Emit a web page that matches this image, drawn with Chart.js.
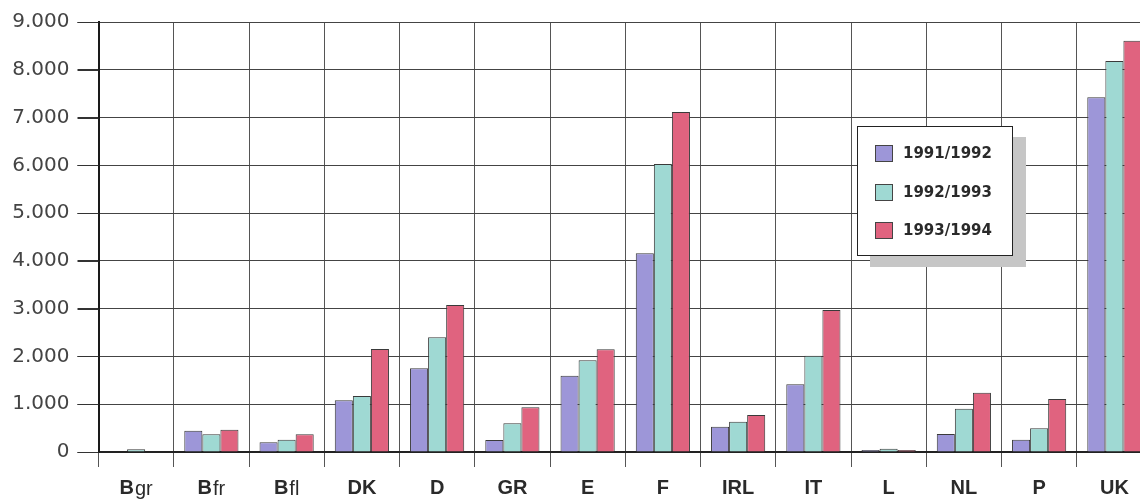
<!DOCTYPE html>
<html>
<head>
<meta charset="utf-8">
<script src="https://cdn.jsdelivr.net/npm/chart.js@4/dist/chart.umd.min.js"></script>
<style>
  html, body { margin: 0; padding: 0; background: #fff; overflow: hidden; width: 1140px; height: 501px; }
  #wrap { position: relative; width: 1140px; height: 501px; overflow: hidden; }
  #bars { position: absolute; left: 0; top: 0; }
  #legend {
    position: absolute; left: 857px; top: 126px; width: 154px; height: 128px;
    background: #fff; border: 1px solid #222; box-shadow: 13px 11px 0 #c6c6c6;
    font-family: "DejaVu Sans", sans-serif; font-weight: bold; font-size: 15px; color: #2a2a2a;
  }
  #legend .row { position: absolute; left: 17px; height: 18px; line-height: 18px; white-space: nowrap; }
  #legend .sw { display: inline-block; width: 16px; height: 15px; border: 1px solid #444; vertical-align: middle; margin-right: 10px; }
</style>
</head>
<body>
<div id="wrap">
  <canvas id="bars" width="1152" height="501"></canvas>
  <div id="legend"></div>
</div>
<script>
const countries = ["Bgr", "Bfr", "Bfl", "DK", "D", "GR", "E", "F", "IRL", "IT", "L", "NL", "P", "UK"];
const seriesNames = ["1991/1992", "1992/1993", "1993/1994"];
const y1991 = [0, 445, 203, 1082, 1752, 251, 1597, 4158, 530, 1416, 42, 377, 258, 7423];
const y1992 = [60, 370, 258, 1172, 2400, 600, 1919, 6028, 635, 2016, 70, 907, 495, 8183];
const y1993 = [0, 467, 370, 2156, 3077, 935, 2149, 7116, 775, 2972, 42, 1242, 1109, 8608];
const colors = ["#9d96d8", "#9fd9d3", "#e0637f"];

const yTicks = [0, 1000, 2000, 3000, 4000, 5000, 6000, 7000, 8000, 9000];

function fmt(v) {
  return String(v).replace(/\B(?=(\d{3})+(?!\d))/g, ".");
}

// x labels: "B" bold, the rest of "Bgr" etc. in regular weight
const xLabelPlugin = {
  id: "xLabels",
  afterDraw(chart) {
    const ctx = chart.ctx;
    const xs = chart.scales.x;
    ctx.save();
    ctx.fillStyle = "#2a2a2a";
    ctx.textBaseline = "middle";
    const bold = "bold 20px 'Liberation Sans', Arial, sans-serif";
    const thin = "20px 'Liberation Sans', Arial, sans-serif";
    countries.forEach((c, i) => {
      const x = xs.getPixelForValue(i);
      let head = c, tail = "";
      if (c.length > 1 && c[1] === c[1].toLowerCase()) { head = c[0]; tail = c.slice(1); }
      ctx.font = bold;
      const w1 = ctx.measureText(head).width;
      ctx.font = thin;
      const w2 = tail ? ctx.measureText(tail).width + 1 : 0;
      let left = x - (w1 + w2) / 2;
      ctx.textAlign = "left";
      ctx.font = bold;
      ctx.fillText(head, left, 488);
      if (tail) {
        ctx.font = thin;
        ctx.fillText(tail, left + w1 + 1, 489);
      }
    });
    ctx.restore();
  }
};

// short tick marks left of the y axis, one per y tick
const yTickMarks = {
  id: "yTickMarks",
  afterDraw(chart) {
    const ctx = chart.ctx;
    const ys = chart.scales.y;
    const left = chart.chartArea.left;
    ctx.save();
    ctx.strokeStyle = "#333";
    ctx.lineWidth = 1;
    yTicks.forEach(v => {
      const y = Math.round(ys.getPixelForValue(v)) + 0.5;
      ctx.beginPath();
      ctx.moveTo(left - 21, y);
      ctx.lineTo(left, y);
      ctx.stroke();
    });
    ctx.restore();
  }
};

const datasets = [y1991, y1992, y1993].map((d, i) => ({
  label: seriesNames[i],
  data: d,
  backgroundColor: colors[i],
  borderColor: "#3a3a3a",
  borderWidth: 1,
  barPercentage: 1,
  categoryPercentage: 0.72
}));

new Chart(document.getElementById("bars"), {
  type: "bar",
  data: { labels: countries, datasets: datasets },
  plugins: [xLabelPlugin, yTickMarks],
  options: {
    responsive: false,
    animation: false,
    layout: { padding: { top: 22, right: 0, left: 0, bottom: 0 } },
    plugins: { legend: { display: false }, tooltip: { enabled: false } },
    scales: {
      x: {
        offset: true,
        afterFit(scale) { scale.height = 49; },
        grid: {
          offset: true,
          color: "#555",
          lineWidth: 1,
          drawTicks: true,
          tickLength: 15
        },
        border: { display: true, color: "#222", width: 2 },
        ticks: { display: false }
      },
      y: {
        min: 0,
        max: 9000,
        afterFit(scale) { scale.width = 98.5; },
        afterBuildTicks(scale) { scale.ticks = yTicks.map(v => ({ value: v })); },
        grid: {
          color: "#444",
          lineWidth: 1,
          drawTicks: true,
          tickLength: 21,
          tickColor: "#333"
        },
        border: { display: true, color: "#1a1a1a", width: 2 },
        ticks: {
          padding: 8,
          color: "#444",
          font: { family: "'DejaVu Sans', sans-serif", size: 20 },
          callback: v => fmt(v)
        }
      }
    }
  }
});

// legend box built from the series names and colours
const legend = document.getElementById("legend");
const rowTops = [17, 56, 94];
seriesNames.forEach((name, i) => {
  const row = document.createElement("div");
  row.className = "row";
  row.style.top = rowTops[i] + "px";
  const sw = document.createElement("span");
  sw.className = "sw";
  sw.style.background = colors[i];
  row.appendChild(sw);
  row.appendChild(document.createTextNode(name));
  legend.appendChild(row);
});
</script>
</body>
</html>
